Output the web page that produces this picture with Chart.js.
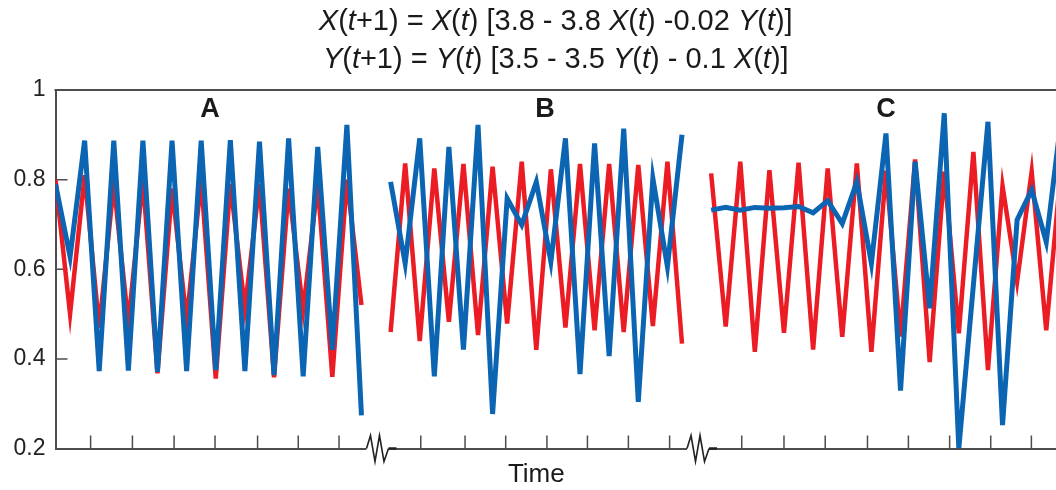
<!DOCTYPE html>
<html>
<head>
<meta charset="utf-8">
<script src="https://cdn.jsdelivr.net/npm/chart.js@4/dist/chart.umd.min.js"></script>
<style>
  html, body { margin: 0; padding: 0; background: #fff; }
  #wrap { width: 1056px; height: 490px; position: relative; }
</style>
</head>
<body>
<div id="wrap"><canvas id="grafico"></canvas></div>
<script>
// time steps of the three runs, the axis is broken between them
const tempoA = [0, 1, 2, 3, 4, 5, 6, 7, 8, 9, 10, 11, 12, 13, 14, 15, 16, 17, 18, 19, 20, 21];
const tempoB = [23, 24, 25, 26, 27, 28, 29, 30, 31, 32, 33, 34, 35, 36, 37, 38, 39, 40, 41, 42, 43];
const tempoC = [45, 46, 47, 48, 49, 50, 51, 52, 53, 54, 55, 56, 57, 58, 59, 60, 61, 62, 63, 64, 65, 66, 67, 68, 69];

// X(t), red
const xA = [0.80, 0.50, 0.81, 0.47, 0.79, 0.48, 0.80, 0.368, 0.78, 0.486, 0.80, 0.356, 0.79, 0.513, 0.79, 0.359, 0.78, 0.509, 0.79, 0.36, 0.80, 0.52];
const xB = [0.46, 0.836, 0.44, 0.825, 0.483, 0.835, 0.453, 0.829, 0.479, 0.84, 0.42, 0.823, 0.47, 0.835, 0.464, 0.835, 0.46, 0.833, 0.473, 0.84, 0.434];
const xC = [0.814, 0.472, 0.84, 0.416, 0.821, 0.458, 0.838, 0.421, 0.825, 0.449, 0.836, 0.416, 0.82, 0.45, 0.845, 0.393, 0.818, 0.457, 0.862, 0.375, 0.786, 0.572, 0.818, 0.464, 0.82];

// Y(t), blue
const yA = [0.79, 0.628, 0.887, 0.373, 0.887, 0.374, 0.887, 0.371, 0.887, 0.373, 0.887, 0.375, 0.888, 0.373, 0.885, 0.364, 0.892, 0.361, 0.873, 0.42, 0.922, 0.274];
const yB = [0.795, 0.613, 0.892, 0.361, 0.873, 0.421, 0.922, 0.277, 0.758, 0.699, 0.795, 0.617, 0.892, 0.366, 0.881, 0.406, 0.914, 0.304, 0.803, 0.606, 0.90];
const yC = [0.732, 0.738, 0.732, 0.738, 0.736, 0.737, 0.74, 0.726, 0.753, 0.702, 0.795, 0.613, 0.903, 0.329, 0.84, 0.513, 0.948, 0.2, 0.565, 0.929, 0.252, 0.71, 0.777, 0.661, 0.93];

const yTicks = [0.2, 0.4, 0.6, 0.8, 1];
const tickTempo = [2.41, 5.28, 8.14, 10.95, 13.87, 16.66, 19.46,
  25.07, 28.11, 30.90, 33.73, 36.51, 39.32, 42.15,
  47.10, 50.00, 52.83, 55.73, 58.54, 61.37, 64.19, 66.98];
const quebras = [22.1, 44.1];
const paineis = ['A', 'B', 'C'];
const tempoPaineis = [10.6, 33.6, 57.0];
const tituloX = 'Time';
const tempoTituloX = 33.0;
const titulo = [
  '*X*(*t*+1) = *X*(*t*) [3.8 - 3.8 *X*(*t*) -0.02 *Y*(*t*)]',
  '*Y*(*t*+1) = *Y*(*t*) [3.5 - 3.5 *Y*(*t*) - 0.1 *X*(*t*)]'
];

const corEixo = '#4d4d4d';
const fonte = "'Liberation Sans', Arial, sans-serif";

function montarSerie(tempos, valores) {
  const pontos = [];
  tempos.forEach(function (t, k) {
    if (k > 0) pontos.push({ x: t[0] - 1, y: null });
    t.forEach(function (v, i) {
      pontos.push({ x: v, y: valores[k][i] });
    });
  });
  return pontos;
}

const decoracao = {
  id: 'decoracao',
  beforeDatasetsDraw(chart) {
    const ctx = chart.ctx;
    const area = chart.chartArea;
    const sx = chart.scales.x;
    const sy = chart.scales.y;
    ctx.save();

    // top frame line
    ctx.strokeStyle = corEixo;
    ctx.lineWidth = 2;
    ctx.beginPath();
    ctx.moveTo(area.left - 1, area.top);
    ctx.lineTo(area.right, area.top);
    ctx.stroke();

    // tick marks pointing inward
    ctx.lineWidth = 1.5;
    ctx.beginPath();
    tickTempo.forEach(function (t) {
      const px = sx.getPixelForValue(t);
      ctx.moveTo(px, area.bottom);
      ctx.lineTo(px, area.bottom - 13);
    });
    yTicks.filter(function (v) { return v > sy.min && v < sy.max; }).forEach(function (v) {
      const py = sy.getPixelForValue(v);
      ctx.moveTo(area.left, py);
      ctx.lineTo(area.left + 12, py);
    });
    ctx.stroke();

    // axis breaks
    quebras.forEach(function (t) {
      const px = sx.getPixelForValue(t);
      ctx.fillStyle = '#fff';
      ctx.fillRect(px - 11, area.bottom - 2, 22, 4);
      ctx.strokeStyle = '#222';
      ctx.lineWidth = 1.6;
      ctx.beginPath();
      ctx.moveTo(px - 11, area.bottom);
      ctx.lineTo(px - 7, area.bottom - 13);
      ctx.lineTo(px - 2.5, area.bottom + 13);
      ctx.lineTo(px + 2, area.bottom - 13);
      ctx.lineTo(px + 6.5, area.bottom + 13);
      ctx.lineTo(px + 11, area.bottom);
      ctx.stroke();
      ctx.lineWidth = 2.5;
      ctx.beginPath();
      ctx.moveTo(px + 11, area.bottom);
      ctx.lineTo(px + 19, area.bottom);
      ctx.stroke();
    });

    // panel letters
    ctx.fillStyle = '#1a1a1a';
    ctx.font = 'bold 27px ' + fonte;
    ctx.textAlign = 'center';
    ctx.textBaseline = 'middle';
    paineis.forEach(function (p, i) {
      ctx.fillText(p, sx.getPixelForValue(tempoPaineis[i]), area.top + 20);
    });

    // x axis title
    ctx.font = '26px ' + fonte;
    ctx.fillText(tituloX, sx.getPixelForValue(tempoTituloX), area.bottom + 26);

    // two-line title, italics between asterisks
    ctx.textAlign = 'left';
    const centro = (area.left + area.right) / 2;
    titulo.forEach(function (linha, n) {
      const partes = linha.split('*');
      let largura = 0;
      partes.forEach(function (p, i) {
        ctx.font = (i % 2 ? 'italic ' : '') + '29px ' + fonte;
        largura += ctx.measureText(p).width;
      });
      let px = centro - largura / 2;
      const py = 22 + n * 38;
      partes.forEach(function (p, i) {
        ctx.font = (i % 2 ? 'italic ' : '') + '29px ' + fonte;
        ctx.fillText(p, px, py);
        px += ctx.measureText(p).width;
      });
    });

    ctx.restore();
  }
};

new Chart(document.getElementById('grafico'), {
  type: 'line',
  data: {
    datasets: [{
      label: 'Y(t)',
      data: montarSerie([tempoA, tempoB, tempoC], [yA, yB, yC]),
      borderColor: '#0b65b2',
      borderWidth: 5,
      pointRadius: 0,
      tension: 0,
      spanGaps: false,
      order: 1
    }, {
      label: 'X(t)',
      data: montarSerie([tempoA, tempoB, tempoC], [xA, xB, xC]),
      borderColor: '#ec1c24',
      borderWidth: 4.5,
      pointRadius: 0,
      tension: 0,
      spanGaps: false,
      order: 2
    }]
  },
  options: {
    responsive: true,
    maintainAspectRatio: false,
    animation: false,
    layout: { padding: { top: 90, left: 0, right: 0, bottom: 0 } },
    plugins: {
      legend: { display: false },
      tooltip: { enabled: false }
    },
    scales: {
      x: {
        type: 'linear',
        min: 0,
        max: 68.67,
        ticks: { display: false },
        grid: { display: false },
        border: { color: corEixo, width: 2 },
        afterFit: function (scale) { scale.height = 41.5; }
      },
      y: {
        min: 0.2,
        max: 1,
        afterBuildTicks: function (scale) {
          scale.ticks = yTicks.map(function (v) { return { value: v }; });
        },
        ticks: {
          color: '#222',
          padding: 2,
          font: { family: fonte, size: 23 },
          callback: function (v) { return v === 1 ? '1' : v.toFixed(1); }
        },
        grid: { display: false },
        border: { color: corEixo, width: 2 },
        afterFit: function (scale) { scale.width = 55.5; }
      }
    }
  },
  plugins: [decoracao]
});
</script>
</body>
</html>
